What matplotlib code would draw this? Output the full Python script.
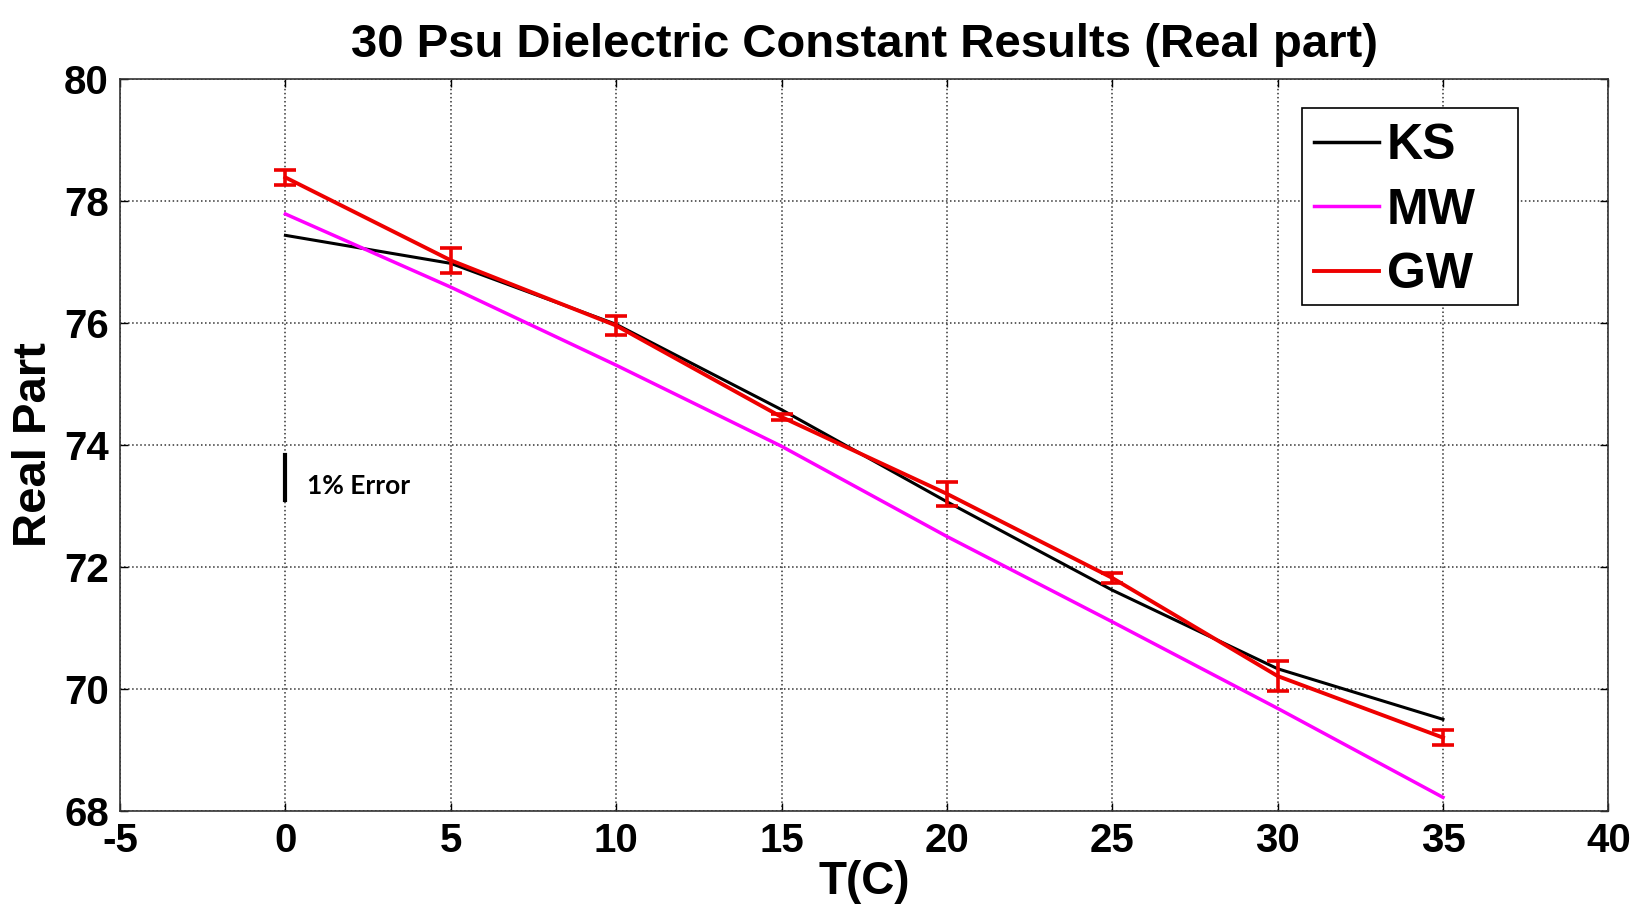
import matplotlib
matplotlib.use("Agg")
import matplotlib.pyplot as plt
from matplotlib.lines import Line2D
from matplotlib.patches import Rectangle

# temperatures and the three model curves
temps = [0, 5, 10, 15, 20, 25, 30, 35]
ks = [77.44, 76.98, 75.98, 74.58, 73.07, 71.62, 70.33, 69.50]
mw = [77.79, 76.59, 75.31, 73.98, 72.50, 71.10, 69.68, 68.22]
gw = [78.39, 77.03, 75.96, 74.46, 73.20, 71.82, 70.21, 69.20]
gw_err = [0.12, 0.20, 0.15, 0.05, 0.20, 0.08, 0.25, 0.12]

xticks = [-5, 0, 5, 10, 15, 20, 25, 30, 35, 40]
yticks = [68, 70, 72, 74, 76, 78, 80]

# the "1% Error" scale bar
err_bar_x = 0
err_bar_y = [73.09, 73.83]
err_text = "1% Error"

plt.rcParams['font.family'] = ['Liberation Sans', 'DejaVu Sans']
plt.rcParams['font.weight'] = 'bold'
plt.rcParams['axes.unicode_minus'] = False

fig = plt.figure(figsize=(16.42, 9.06), dpi=100)
ax = fig.add_axes([0.0731, 0.1051, 0.9064, 0.8074])

red = '#ee0000'
ax.plot(temps, ks, color='black', lw=2.2)
ax.plot(temps, mw, color='#ff00ff', lw=2.5)
ax.plot(temps, gw, color=red, lw=2.8)
ax.errorbar(temps, gw, yerr=gw_err, fmt='none', ecolor=red, elinewidth=2.6,
            capsize=8, capthick=2.6)

ax.plot([err_bar_x, err_bar_x], err_bar_y, color='black', lw=3)
ax.text(0.65, 73.33, err_text, family=['Lato', 'DejaVu Sans'],
        fontweight='bold', fontsize=19, va='center', ha='left')

ax.set_xlim(-5, 40)
ax.set_ylim(68, 80)
ax.set_xticks(xticks)
ax.set_yticks(yticks)
ax.tick_params(direction='in', labelsize=29, length=6, width=1, pad=8,
               top=True, right=True)
for lab in ax.get_xticklabels() + ax.get_yticklabels():
    lab.set_fontweight('bold')
ax.grid(True, linestyle=':', color='#333333', lw=1.1)
for sp in ax.spines.values():
    sp.set_linewidth(1.2)
    sp.set_color('#333333')

ax.set_title('30 Psu Dielectric Constant Results (Real part)', fontsize=34,
             fontweight='bold', pad=16)
ax.set_xlabel('T(C)', fontsize=33, fontweight='bold', labelpad=0)
ax.set_ylabel('Real Part', fontsize=34, fontweight='bold', labelpad=6)

# legend box drawn by hand (MATLAB style leaves space on the right)
ax.add_patch(Rectangle((0.794, 0.6914), 0.1455, 0.269, transform=ax.transAxes,
                       facecolor='white', edgecolor='black', lw=1.2, zorder=4))
handles = [Line2D([], [], color='black', lw=2.5),
           Line2D([], [], color='#ff00ff', lw=2.5),
           Line2D([], [], color=red, lw=2.8)]
leg = ax.legend(handles, ['KS', 'MW', 'GW'], loc='center left',
                bbox_to_anchor=(0.8025, 0.8202), fontsize=36, frameon=False,
                handlelength=1.3, handletextpad=0.15, labelspacing=0.37,
                borderpad=0, borderaxespad=0)
leg.set_zorder(5)
for t in leg.get_texts():
    t.set_fontweight('bold')

fig.savefig('out.png', dpi=100)
